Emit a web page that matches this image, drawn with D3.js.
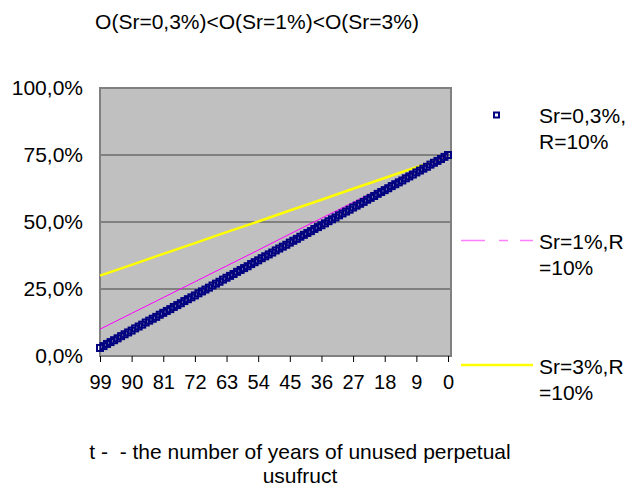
<!DOCTYPE html>
<html>
<head>
<meta charset="utf-8">
<script src="https://cdn.jsdelivr.net/npm/d3@7"></script>
<style>
  html, body { margin: 0; padding: 0; background: #fff; }
  svg text { font-family: "Liberation Sans", Arial, sans-serif; fill: #000; }
</style>
</head>
<body>
<svg id="chart" width="627" height="491"></svg>
<script>
// ---- data ----
const title = "O(Sr=0,3%)<O(Sr=1%)<O(Sr=3%)";
const xTitleLines = ["t -  - the number of years of unused perpetual", "usufruct"];
const years = d3.range(99, -1, -1); // 99 .. 0 categories
const tickYears = [99, 90, 81, 72, 63, 54, 45, 36, 27, 18, 9, 0];
const yTicks = [0, 25, 50, 75, 100];
const yTickLabels = ["0,0%", "25,0%", "50,0%", "75,0%", "100,0%"];

// Sr=0,3%, R=10% — value for each year 99..0 (percent)
const sr03 = [3.0,3.7,4.5,5.2,5.9,6.6,7.4,8.1,8.8,9.5,
  10.3,11.0,11.7,12.5,13.2,13.9,14.6,15.4,16.1,16.8,
  17.5,18.3,19.0,19.7,20.5,21.2,21.9,22.6,23.4,24.1,
  24.8,25.5,26.3,27.0,27.7,28.5,29.2,29.9,30.6,31.4,
  32.1,32.8,33.5,34.3,35.0,35.7,36.5,37.2,37.9,38.6,
  39.4,40.1,40.8,41.5,42.3,43.0,43.7,44.5,45.2,45.9,
  46.6,47.4,48.1,48.8,49.5,50.3,51.0,51.7,52.5,53.2,
  53.9,54.6,55.4,56.1,56.8,57.5,58.3,59.0,59.7,60.5,
  61.2,61.9,62.6,63.4,64.1,64.8,65.5,66.3,67.0,67.7,
  68.5,69.2,69.9,70.6,71.4,72.1,72.8,73.5,74.3,75.0];
// Sr=1%, R=10% at tick years
const sr1 = [10.0,15.9,21.8,27.7,33.6,39.5,45.5,51.4,57.3,63.2,69.1,75.0];
// Sr=3%, R=10% at tick years
const sr3 = [30.0,34.0,38.1,42.1,46.2,50.2,54.3,58.3,62.4,66.4,70.5,74.5];

const seriesNames = [["Sr=0,3%,", "R=10%"], ["Sr=1%,R", "=10%"], ["Sr=3%,R", "=10%"]];

// ---- layout ----
const FS = "21px";
const svg = d3.select("#chart");
const plot = { left: 100, right: 451, top: 88, bottom: 356 };
const x = d3.scaleLinear().domain([99, 0]).range([100, 448]);
const y = d3.scaleLinear().domain([0, 100]).range([plot.bottom, plot.top]);

// Title
svg.append("text").attr("x", 257).attr("y", 29).attr("text-anchor", "middle")
  .style("font-size", FS).text(title);

// Plot background
svg.append("rect").attr("x", plot.left).attr("y", plot.top)
  .attr("width", plot.right - plot.left).attr("height", plot.bottom - plot.top)
  .attr("fill", "#c0c0c0");

// Gridlines
svg.append("g").selectAll("line").data(yTicks.filter(d => d > 0 && d < 100)).join("line")
  .attr("x1", plot.left).attr("x2", plot.right)
  .attr("y1", d => y(d)).attr("y2", d => y(d))
  .attr("stroke", "#404040").attr("stroke-width", 1);

// Frame
svg.append("rect").attr("x", plot.left).attr("y", plot.top)
  .attr("width", plot.right - plot.left).attr("height", plot.bottom - plot.top)
  .attr("fill", "none").attr("stroke", "#808080").attr("stroke-width", 2);

// Y axis labels
const yAxis = d3.axisLeft(y).tickValues(yTicks).tickSize(0).tickPadding(17)
  .tickFormat((d, i) => yTickLabels[i]);
const gy = svg.append("g").attr("transform", `translate(${plot.left},0)`).call(yAxis);
gy.select(".domain").remove();
gy.selectAll("text").style("font-size", FS).attr("fill", "#000")
  .style("font-family", "'Liberation Sans', Arial, sans-serif");

// X axis
const xAxis = d3.axisBottom(x).tickValues(tickYears).tickSize(6).tickPadding(13)
  .tickFormat(d3.format("d"));
const gx = svg.append("g").attr("transform", `translate(0,${plot.bottom})`).call(xAxis);
gx.select(".domain").remove();
gx.selectAll(".tick line").attr("stroke", "#000");
gx.selectAll("text").style("font-size", "20px").attr("fill", "#000")
  .style("font-family", "'Liberation Sans', Arial, sans-serif");

// X title
svg.append("text").attr("text-anchor", "middle").style("font-size", FS)
  .selectAll("tspan").data(xTitleLines).join("tspan")
  .attr("x", 300).attr("y", (d, i) => 459 + i * 24)
  .style("white-space", "pre").text(d => d);

// Lines
const line = d3.line().x(d => x(d[0])).y(d => y(d[1]));
svg.append("path").datum(tickYears.map((t, i) => [t, sr3[i]]))
  .attr("d", line).attr("fill", "none").attr("stroke", "#ffff00").attr("stroke-width", 2.5);
svg.append("path").datum(tickYears.map((t, i) => [t, sr1[i]]))
  .attr("d", line).attr("fill", "none").attr("stroke", "#ff00ff").attr("stroke-width", 1);

// Markers
const ms = 6;
svg.append("g").selectAll("rect").data(years.map((t, i) => [t, sr03[i]])).join("rect")
  .attr("x", d => x(d[0]) - ms / 2).attr("y", d => y(d[1]) - ms / 2)
  .attr("width", ms).attr("height", ms)
  .attr("fill", "none").attr("stroke", "#000080").attr("stroke-width", 2);

// Legend
const lg = svg.append("g");
lg.append("rect").attr("x", 494).attr("y", 112.5).attr("width", 5).attr("height", 5)
  .attr("fill", "none").attr("stroke", "#000080").attr("stroke-width", 2);
lg.append("line").attr("x1", 461).attr("x2", 533).attr("y1", 240.5).attr("y2", 240.5)
  .attr("stroke", "#ff80ff").attr("stroke-width", 1.5).attr("stroke-dasharray", "24,14,9,12,13");
lg.append("line").attr("x1", 461).attr("x2", 533).attr("y1", 365).attr("y2", 365)
  .attr("stroke", "#ffff00").attr("stroke-width", 2.5);
const legendY = [115, 241, 366];
seriesNames.forEach((lines, k) => {
  lg.append("text").style("font-size", FS)
    .selectAll("tspan").data(lines).join("tspan")
    .attr("x", 539).attr("y", (d, i) => legendY[k] + 7.5 + i * 26).text(d => d);
});
</script>
</body>
</html>
